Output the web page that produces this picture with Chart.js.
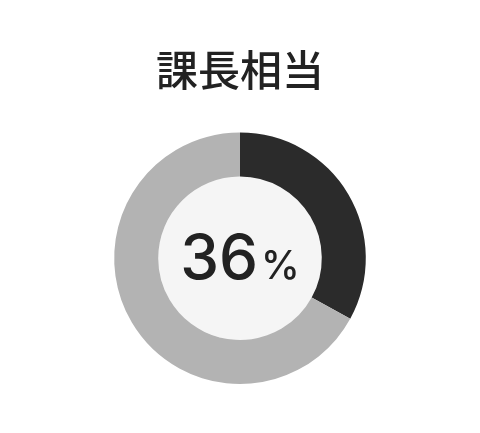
<!DOCTYPE html>
<html>
<head>
<meta charset="utf-8">
<script src="https://cdn.jsdelivr.net/npm/chart.js@4/dist/chart.umd.min.js"></script>
<style>
    html, body { margin: 0; padding: 0; background: #ffffff; }
    #wrap { width: 480px; height: 433px; }
</style>
</head>
<body>
<div id="wrap"><canvas id="rankChart"></canvas></div>
<script>
const titleText = "課長相当";
const labels = ["課長相当", "その他"];
const values = [33, 67];
const centerNumber = "36";
const centerUnit = "%";

// inner disc + percentage text in the hole
const centerPlugin = {
    id: 'centerText',
    beforeDatasetsDraw(chart) {
        const arc = chart.getDatasetMeta(0).data[0];
        if (!arc) return;
        const ctx = chart.ctx;
        ctx.save();
        ctx.beginPath();
        ctx.arc(arc.x, arc.y, arc.innerRadius, 0, Math.PI * 2);
        ctx.fillStyle = '#f5f5f5';
        ctx.fill();
        ctx.restore();
    },
    afterDatasetsDraw(chart) {
        const arc = chart.getDatasetMeta(0).data[0];
        if (!arc) return;
        const ctx = chart.ctx;
        ctx.save();
        ctx.fillStyle = '#222222';
        ctx.textBaseline = 'alphabetic';
        ctx.textAlign = 'left';
        const bigFont = "500 62px 'Inter', sans-serif";
        const smallFont = "500 39px 'Inter', sans-serif";
        const gap = 3;
        ctx.font = bigFont;
        const w1 = ctx.measureText(centerNumber).width;
        ctx.font = smallFont;
        const w2 = ctx.measureText(centerUnit).width;
        const left = arc.x - (w1 + gap + w2) / 2;
        const baseline = arc.y + 21;
        ctx.font = bigFont;
        ctx.fillText(centerNumber, left, baseline);
        ctx.font = smallFont;
        ctx.fillText(centerUnit, left + w1 + gap, baseline);
        ctx.restore();
    }
};

new Chart(document.getElementById('rankChart'), {
    type: 'doughnut',
    data: {
        labels: labels,
        datasets: [{
            data: values,
            backgroundColor: ['#2b2b2b', '#b3b3b3'],
            borderWidth: 0,
            hoverOffset: 0,
        }],
    },
    options: {
        responsive: true,
        maintainAspectRatio: false,
        animation: false,
        cutout: '65%',
        layout: {
            padding: { top: 0, bottom: 49, left: 0, right: 0 },
        },
        plugins: {
            legend: { display: false },
            tooltip: { enabled: false },
            title: {
                display: true,
                text: titleText,
                color: '#222222',
                font: {
                    size: 42,
                    weight: '500',
                    family: "'Noto Sans CJK JP', sans-serif",
                    lineHeight: 1.2,
                },
                padding: { top: 45, bottom: 37 },
            },
        },
    },
    plugins: [centerPlugin],
});
</script>
</body>
</html>
